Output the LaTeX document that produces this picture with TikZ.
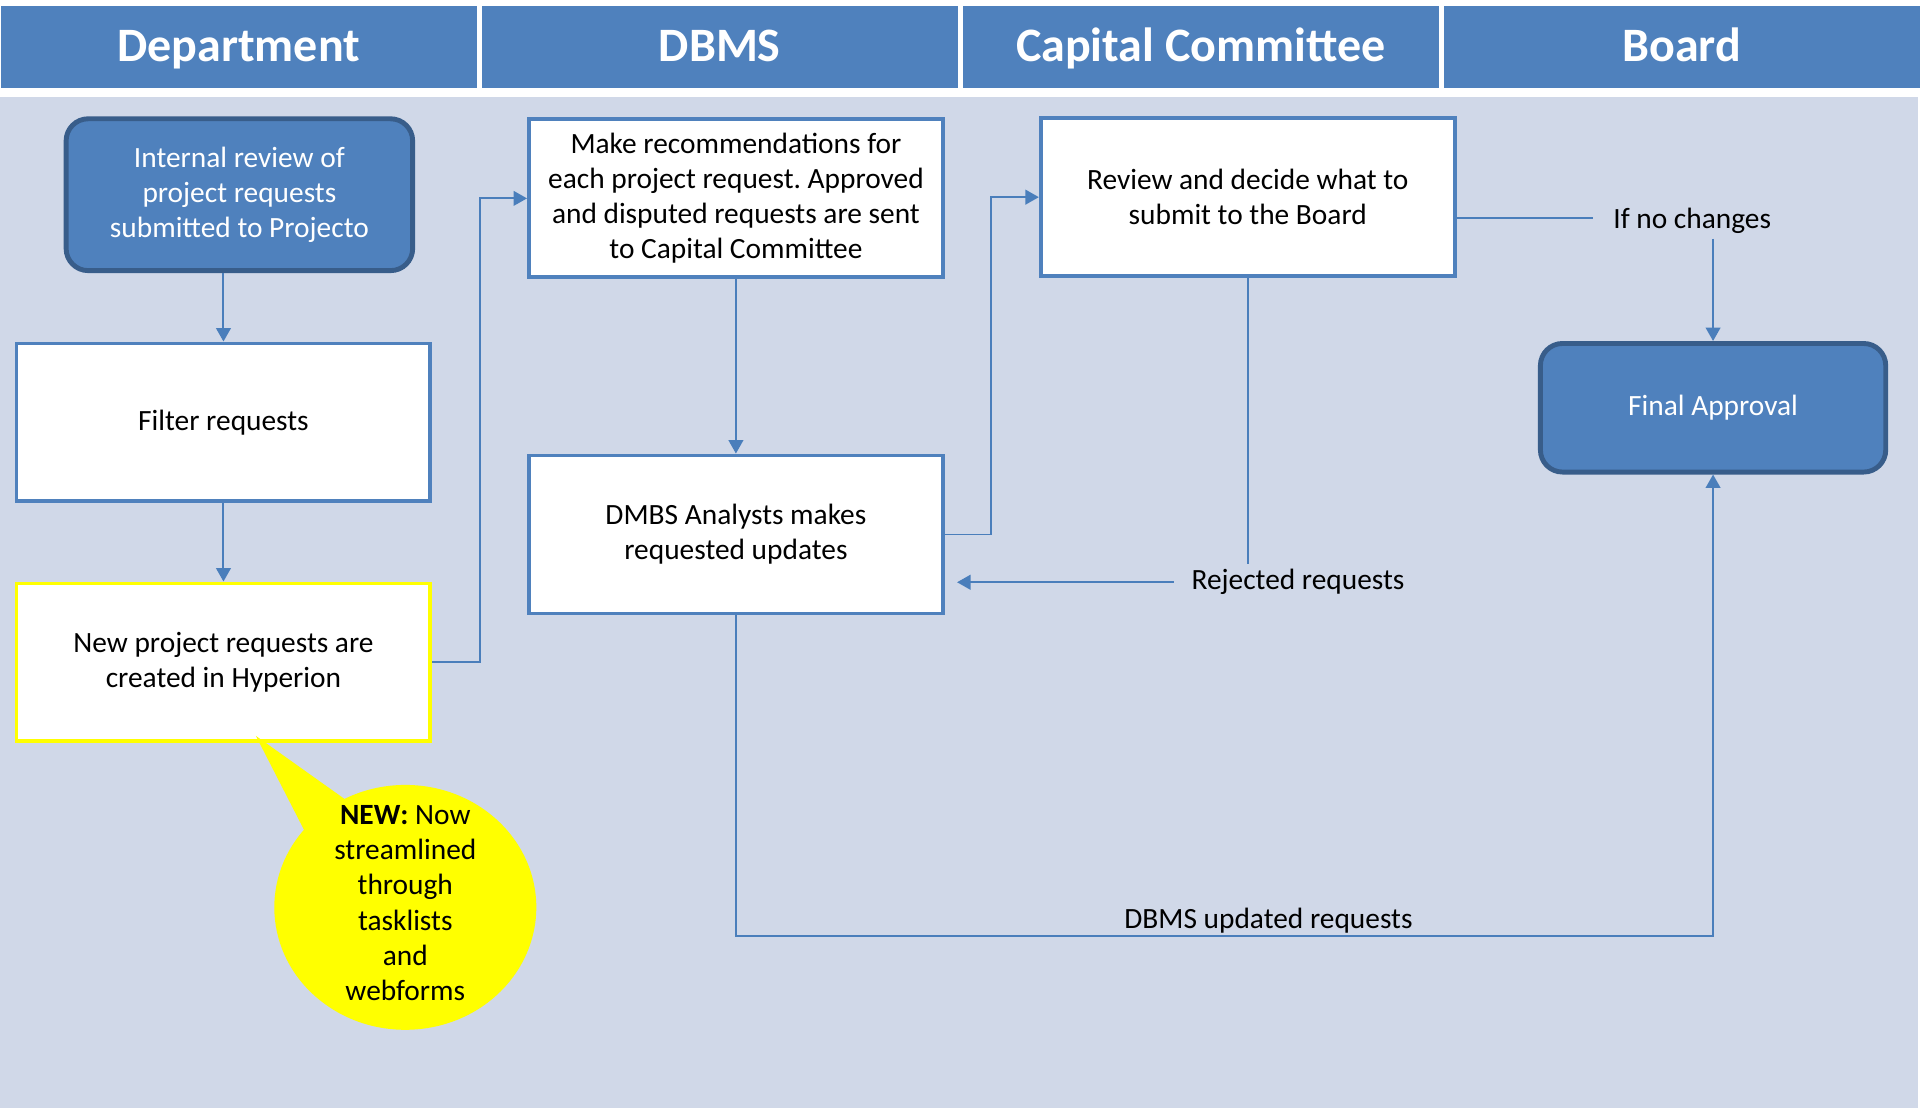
\documentclass[tikz,border=0pt]{standalone}
\usepackage{fontspec}
\setmainfont{Carlito}
\frenchspacing
\usetikzlibrary{arrows.meta,positioning,shapes.callouts}

\definecolor{hdrblue}{HTML}{4F81BD}
\definecolor{darkblue}{HTML}{385D8A}
\definecolor{lanegrey}{HTML}{D0D8E8}
\definecolor{linkblue}{HTML}{4A7EBB}
\definecolor{notered}{HTML}{FFFF00}

\begin{document}
\begin{tikzpicture}[x=0.5pt,y=-0.5pt,
	lanehead/.style={fill=hdrblue, text=white, minimum width=194.5pt,
		minimum height=33.5pt, inner sep=0pt, text height=16pt, text depth=4.5pt,
		font=\fontsize{19.6}{23}\selectfont\bfseries},
	task/.style={draw=hdrblue, line width=1.6pt, fill=white,
		minimum width=169pt, minimum height=64.5pt, inner sep=0pt,
		align=center, font=\fontsize{12}{14.35}\selectfont},
	terminal/.style={draw=darkblue, line width=2pt, fill=hdrblue,
		rounded corners=9pt, text=white, inner sep=0pt, align=center,
		font=\fontsize{12}{14.35}\selectfont},
	lbl/.style={inner sep=2pt, font=\fontsize{12}{14.35}\selectfont},
	conn/.style={draw=linkblue, line width=0.8pt},
	arr/.style={conn, -{Triangle[width=6pt,length=5.5pt]}}]
	\useasboundingbox (0,0) rectangle (1568,907);
	\fill[lanegrey] (0,79) rectangle (1566,905);
	% swimlane headers
	\node[lanehead] (hdept) at (195,38.5) {Department};
	\node[lanehead, right=1.5pt of hdept] (hdbms) {DBMS};
	\node[lanehead, right=1.5pt of hdbms] (hcap) {Capital Committee};
	\node[lanehead, right=1.5pt of hcap] (hboard) {Board};
	% steps
	\node[terminal, minimum width=141.5pt, minimum height=62pt] (intrev) at (195.5,159)
		{Internal review of\\project requests\\submitted to Projecto};
	\node[task] (filter) at (182.5,345) {Filter requests};
	\node[task, draw=notered] (newreq) at (182.5,541)
		{New project requests are\\created in Hyperion};
	\node[task] (makerec) at (601,162)
		{Make recommendations for\\each project request. Approved\\and disputed requests are sent\\to Capital Committee};
	\node[task] (analysts) at (601,436.5)
		{DMBS Analysts makes\\requested updates};
	\node[task] (review) at (1019,161)
		{Review and decide what to\\submit to the Board};
	\node[terminal, minimum width=141pt, minimum height=52.5pt] (final) at (1399,333)
		{Final Approval};
	% labels
	\node[lbl] (ifno) at (1382,180) {If no changes};
	\node[lbl] (rej) at (1060,475.5) {Rejected requests};
	\coordinate (updrow) at (0,764);
	% connectors
	\draw[arr] (intrev.south -| filter) -- (filter.north);
	\draw[arr] (filter) -- (newreq);
	\draw[arr] (newreq.east) -- ++(19.5pt,0) |- (makerec.west);
	\draw[arr] (makerec) -- (analysts);
	\draw[arr] (analysts.east) -- ++(19pt,0) |- (review.west);
	\draw[conn] (review.east |- 0,178) -- ([xshift=-6pt]ifno.west |- 0,178);
	\draw[arr] (ifno.south -| final) -- (final.north);
	\draw[conn] (review.south) -- (review.south |- rej.north);
	\draw[arr] ([xshift=-5pt]rej.west) -- ([xshift=5pt]analysts.east |- rej.west);
	\draw[arr] (analysts.south) -- (analysts.south |- updrow)
		-- node[lbl, above, pos=0.545, yshift=-1.5pt] (updlbl) {DBMS updated requests} (final.south |- updrow)
		-- (final.south);
	% callout
	\coordinate (tip) at (209,601);
	\node[ellipse callout, fill=notered, minimum width=107pt, minimum height=100pt,
		callout absolute pointer={(tip)}, callout pointer arc=23] (bubble) at (331,741) {};
	\node[lbl, align=center] (bubtext) at (331,737.5)
		{\textbf{NEW:} Now\\streamlined\\through\\tasklists\\and\\webforms};
\end{tikzpicture}
\end{document}
